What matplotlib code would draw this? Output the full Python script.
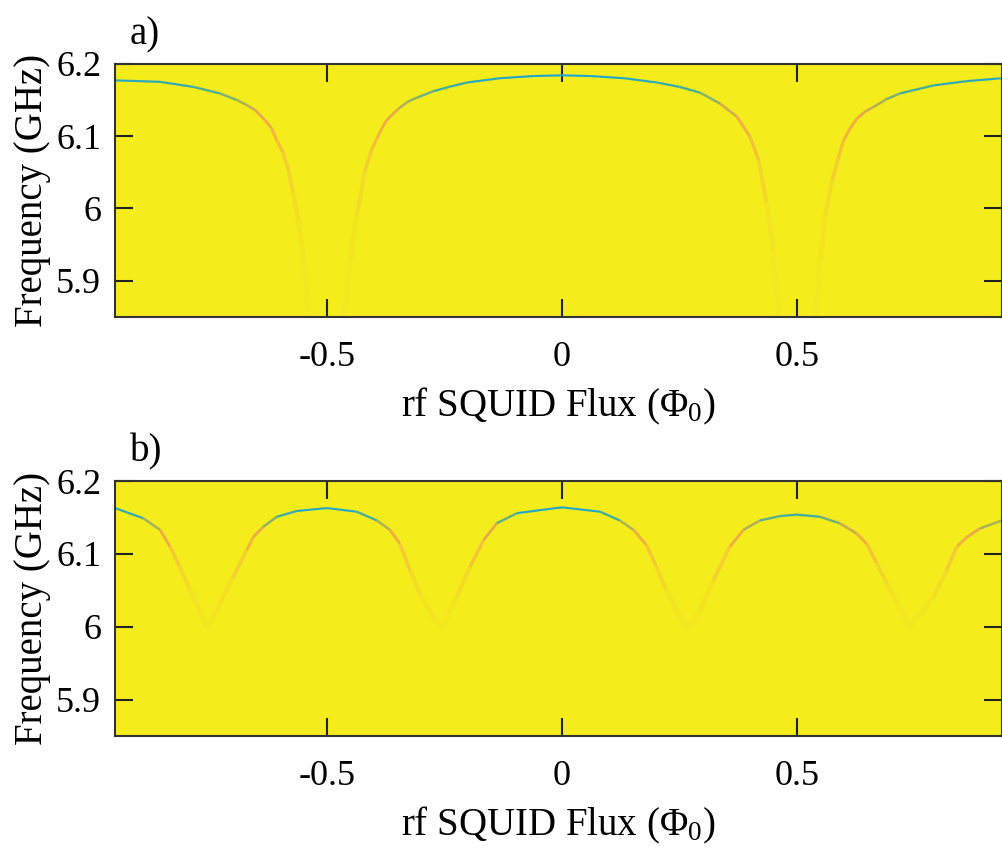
import matplotlib
matplotlib.use("Agg")
import matplotlib.pyplot as plt
import numpy as np
from matplotlib.collections import LineCollection
from matplotlib.colors import LinearSegmentedColormap, Normalize

# resonance frequency (GHz), one list per visible branch
flux_a1 = [-0.951, -0.900, -0.855, -0.784, -0.728, -0.692, -0.671, -0.653, -0.632,
           -0.618, -0.607, -0.594, -0.582, -0.572, -0.561, -0.554, -0.547, -0.538]
freq_a1 = [6.177, 6.176, 6.175, 6.168, 6.159, 6.150, 6.143, 6.136, 6.122,
           6.111, 6.094, 6.078, 6.053, 6.021, 5.984, 5.947, 5.906, 5.840]

flux_a2 = [-0.466, -0.451, -0.437, -0.419, -0.405, -0.394, -0.383, -0.373, -0.348,
           -0.327, -0.309, -0.274, -0.240, -0.203, -0.132, -0.061, 0.0, 0.061,
           0.132, 0.203, 0.250, 0.294, 0.336, 0.372, 0.400, 0.418, 0.435, 0.450, 0.462]
freq_a2 = [5.840, 5.929, 5.989, 6.053, 6.081, 6.097, 6.111, 6.122, 6.138,
           6.148, 6.153, 6.162, 6.168, 6.174, 6.180, 6.183, 6.184, 6.183,
           6.180, 6.174, 6.168, 6.160, 6.145, 6.127, 6.099, 6.067, 6.008, 5.940, 5.840]

flux_a3 = [0.538, 0.549, 0.560, 0.575, 0.588, 0.599, 0.612, 0.627, 0.645,
           0.662, 0.690, 0.719, 0.790, 0.861, 0.936]
freq_a3 = [5.840, 5.929, 5.990, 6.040, 6.070, 6.094, 6.110, 6.124, 6.134,
           6.140, 6.151, 6.159, 6.170, 6.176, 6.180]

# panel b, one continuous curve
flux_b = [-0.951, -0.891, -0.855, -0.834, -0.813, -0.791, -0.770, -0.756, -0.742,
          -0.728, -0.700, -0.671, -0.657, -0.636, -0.607, -0.564, -0.500, -0.437,
          -0.394, -0.366, -0.345, -0.323, -0.302, -0.274, -0.256, -0.240, -0.224,
          -0.196, -0.167, -0.139, -0.096, 0.0, 0.081, 0.123, 0.152, 0.180,
          0.201, 0.222, 0.244, 0.265, 0.280, 0.294, 0.322, 0.357, 0.386,
          0.421, 0.464, 0.500, 0.549, 0.591, 0.627, 0.648, 0.670, 0.691,
          0.714, 0.737, 0.765, 0.790, 0.818, 0.840, 0.861, 0.889, 0.936]
freq_b = [6.163, 6.149, 6.133, 6.110, 6.082, 6.050, 6.022, 5.999, 6.012,
          6.032, 6.068, 6.105, 6.123, 6.137, 6.151, 6.159, 6.163, 6.158,
          6.146, 6.133, 6.114, 6.077, 6.045, 6.013, 5.999, 6.020, 6.041,
          6.082, 6.119, 6.142, 6.156, 6.164, 6.158, 6.146, 6.133, 6.112,
          6.082, 6.050, 6.022, 5.999, 6.008, 6.022, 6.064, 6.110, 6.133,
          6.146, 6.152, 6.154, 6.151, 6.142, 6.128, 6.114, 6.087, 6.059,
          6.032, 5.999, 6.020, 6.041, 6.077, 6.110, 6.123, 6.135, 6.146]

yticks = [5.9, 6.0, 6.1, 6.2]
ytick_labels = ["5.9", "6", "6.1", "6.2"]
xticks = [-0.5, 0.0, 0.5]
xtick_labels = ["-0.5", "0", "0.5"]

plt.rcParams["font.family"] = ["Liberation Serif", "DejaVu Serif"]
plt.rcParams["mathtext.fontset"] = "custom"
plt.rcParams["mathtext.rm"] = "Liberation Serif"
plt.rcParams["mathtext.it"] = "Liberation Serif:italic"

bg = "#f5ec1c"
# faint yellow -> orange -> green -> cyan (parula-like)
cmap = LinearSegmentedColormap.from_list("res", [
    (0.00, "#f4e91e"),
    (0.30, "#f4e221"),
    (0.45, "#f4d928"),
    (0.60, "#f4cb33"),
    (0.72, "#f2b43e"),
    (0.80, "#eea846"),
    (0.87, "#a6b454"),
    (0.93, "#45ae98"),
    (1.00, "#1aa6d6"),
])


def draw_curve(ax, flux, freq, fmin, fmax):
    pts = np.column_stack([flux, freq])
    segs = np.stack([pts[:-1], pts[1:]], axis=1)
    mid = (np.array(freq[:-1]) + np.array(freq[1:])) / 2
    t = Normalize(fmin, fmax, clip=True)(mid)
    lc = LineCollection(segs, colors=cmap(t), linewidths=1.5 + 2.5 * (1 - t),
                        capstyle="butt")
    ax.add_collection(lc)


fig = plt.figure(figsize=(10.02, 8.5), dpi=100)
ax_a = fig.add_axes([0.1148, 0.627, 0.8852, 0.298])
ax_b = fig.add_axes([0.1148, 0.134, 0.8852, 0.300])

draw_curve(ax_a, flux_a1, freq_a1, 5.90, 6.185)
draw_curve(ax_a, flux_a2, freq_a2, 5.90, 6.185)
draw_curve(ax_a, flux_a3, freq_a3, 5.90, 6.185)
draw_curve(ax_b, flux_b, freq_b, 5.99, 6.164)

for ax, tag in [(ax_a, "a)"), (ax_b, "b)")]:
    ax.set_facecolor(bg)
    ax.set_xlim(-0.951, 0.936)
    ax.set_ylim(5.85, 6.2)
    ax.set_xticks(xticks)
    ax.set_xticklabels(xtick_labels)
    ax.set_yticks(yticks)
    ax.set_yticklabels(ytick_labels)
    ax.tick_params(direction="in", length=13, width=1.5, labelsize=26,
                   top=True, right=True, color="#222222")
    ax.tick_params(axis="x", pad=17)
    ax.tick_params(axis="y", pad=10)
    for s in ax.spines.values():
        s.set_linewidth(1.5)
        s.set_color("#333333")
    ax.set_xlabel(r"rf SQUID Flux ($\Phi_0$)", fontsize=28, labelpad=9)
    ax.set_ylabel("Frequency (GHz)", fontsize=28)
    ax.yaxis.set_label_coords(-0.072, 0.5)
    ax.text(0.017, 1.04, tag, transform=ax.transAxes, fontsize=28,
            ha="left", va="bottom")

fig.savefig("out.png", dpi=100)
